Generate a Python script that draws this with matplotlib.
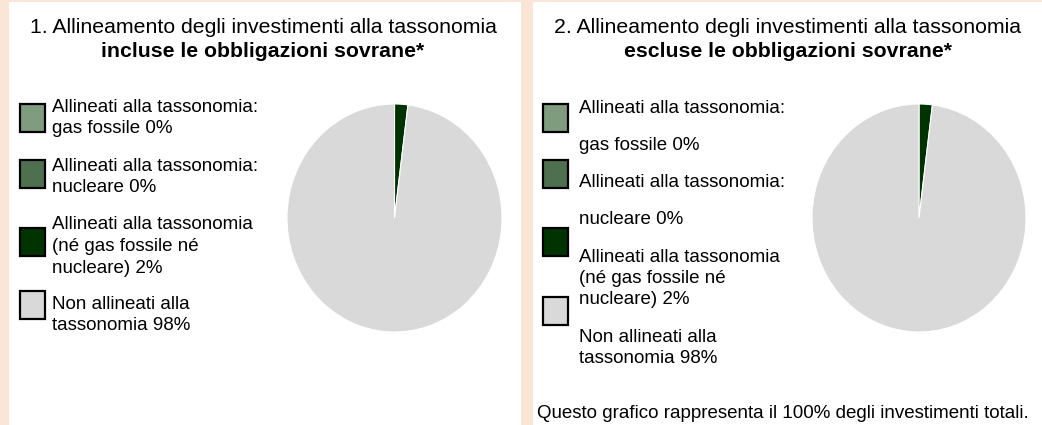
import matplotlib
matplotlib.use("Agg")
import matplotlib.pyplot as plt
from matplotlib.patches import Rectangle

plt.rcParams['font.family'] = ['Liberation Sans', 'DejaVu Sans']

# dati
categorie = ["gas fossile", "nucleare", "altro allineato", "non allineato"]
valori_incl = [0, 0, 2, 98]
valori_escl = [0, 0, 2, 98]
colori = ["#7F9C7F", "#4F704F", "#003300", "#D9D9D9"]

titolo_1 = "1. Allineamento degli investimenti alla tassonomia"
titolo_1b = "incluse le obbligazioni sovrane*"
titolo_2 = "2. Allineamento degli investimenti alla tassonomia"
titolo_2b = "escluse le obbligazioni sovrane*"

legenda_1 = [["Allineati alla tassonomia:", "gas fossile 0%"],
             ["Allineati alla tassonomia:", "nucleare 0%"],
             ["Allineati alla tassonomia", "(né gas fossile né", "nucleare) 2%"],
             ["Non allineati alla", "tassonomia 98%"]]
# nel secondo pannello le righe sono distribuite diversamente
righe_2 = ["Allineati alla tassonomia:", "gas fossile 0%",
           "Allineati alla tassonomia:", "nucleare 0%",
           "Allineati alla tassonomia", "(né gas fossile né",
           "nucleare) 2%", "Non allineati alla", "tassonomia 98%"]
nota = "Questo grafico rappresenta il 100% degli investimenti totali."

W, H = 1042, 425
fig = plt.figure(figsize=(W / 100, H / 100), dpi=100)
fig.patch.set_facecolor("#FBE5D6")

# livello di disegno in pixel (y verso il basso)
bg = fig.add_axes([0, 0, 1, 1])
bg.set_xlim(0, W)
bg.set_ylim(H, 0)
bg.axis("off")

bg.add_patch(Rectangle((9, 2), 512, H, facecolor="white", edgecolor="none"))
bg.add_patch(Rectangle((533, 2), W - 533, H, facecolor="white", edgecolor="none"))

fs = 13.5
fs_tit = 15.3
dy = 1.5  # piccola correzione per centrare le maiuscole

# titoli
bg.text(263, 26 + dy, titolo_1, ha="center", va="center", fontsize=fs_tit)
bg.text(263, 50 + dy, titolo_1b, ha="center", va="center", fontsize=fs_tit, fontweight="bold")
bg.text(788, 26 + dy, titolo_2, ha="center", va="center", fontsize=fs_tit)
bg.text(788, 50 + dy, titolo_2b, ha="center", va="center", fontsize=fs_tit, fontweight="bold")

# legenda pannello 1
box_y1 = [104, 160, 228, 291]
txt_y1 = [[106, 127], [165, 186], [223, 245, 267], [303, 324]]
for righe, col, by, ys in zip(legenda_1, colori, box_y1, txt_y1):
    bg.add_patch(Rectangle((20, by), 25, 28, facecolor=col, edgecolor="black", linewidth=1.6))
    for r, y in zip(righe, ys):
        bg.text(52, y + dy, r, ha="left", va="center", fontsize=fs)

# legenda pannello 2
box_y2 = [104, 160, 228, 297]
for col, by in zip(colori, box_y2):
    bg.add_patch(Rectangle((543, by), 25, 28, facecolor=col, edgecolor="black", linewidth=1.6))
riga_y2 = [107, 144, 181, 218, 256, 277, 298, 336, 357]
for r, y in zip(righe_2, riga_y2):
    bg.text(579, y + dy, r, ha="left", va="center", fontsize=fs)

bg.text(537, 412 + dy, nota, ha="left", va="center", fontsize=fs)

# torte
def torta(box, valori):
    ax = fig.add_axes(box)
    ax.pie(valori, colors=colori, startangle=90, counterclock=False,
           wedgeprops=dict(edgecolor="white", linewidth=0.8))
    ax.set_aspect("auto")
    ax.set_xlim(-1, 1)
    ax.set_ylim(-1, 1)
    ax.axis("off")

torta([287 / W, (H - 332) / H, 215 / W, 228 / H], valori_incl)
torta([812 / W, (H - 332) / H, 214 / W, 228 / H], valori_escl)

fig.savefig("out.png", dpi=100, facecolor=fig.get_facecolor())
